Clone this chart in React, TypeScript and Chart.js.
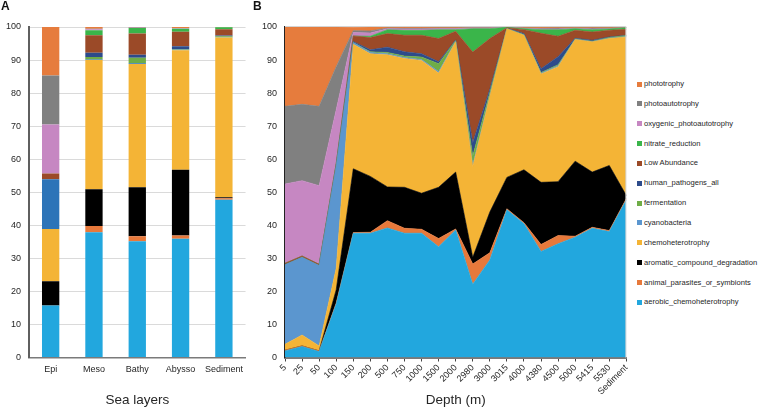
import React, { useEffect, useRef } from "react";
import { Chart, registerables } from "chart.js";

Chart.register(...registerables);

const FONT = "'Liberation Sans', Arial, Helvetica, sans-serif";

// ---------- Panel A: sea layers ----------
const layersA = ["Epi", "Meso", "Bathy", "Abysso", "Sediment"];
const aerobicA = [15.7, 37.9, 35.2, 35.9, 47.7];
const animalA = [0, 1.9, 1.5, 1.0, 0.5];
const aromaticA = [7.4, 11.1, 14.8, 19.9, 0.3];
const chemoA = [15.8, 39.1, 37.3, 36.2, 48.3];
const cyanoA = [15.0, 0.2, 0.2, 0.1, 0.1];
const fermentA = [0, 0.7, 1.7, 0.2, 0.3];
const humanA = [0, 1.3, 0.9, 0.9, 0.2];
const lowA = [1.8, 5.3, 6.4, 4.4, 1.9];
const nitrateA = [0, 1.5, 1.7, 0.9, 0.6];
const oxygenicA = [14.8, 0.3, 0.1, 0.1, 0];
const photoautoA = [14.8, 0.2, 0.1, 0.1, 0];
const phototrophyA = [14.7, 0.5, 0.1, 0.3, 0.1];

// ---------- Panel B: depth ----------
const depthsB = ["5", "25", "50", "100", "150", "200", "500", "750", "1000", "1500", "2000", "2980", "3000", "3015", "4000", "4380", "4500", "5000", "5415", "5530", "Sediment"];
const aerobicB = [2.0, 3.3, 1.8, 16.2, 37.6, 37.6, 39.2, 37.6, 37.6, 33.5, 38.6, 22.2, 29.5, 44.7, 40.5, 32.1, 34.4, 36.4, 39.1, 38.1, 47.7];
const animalB = [0.2, 0.2, 0.2, 0.3, 0.2, 0.3, 2.2, 1.5, 1.2, 2.5, 0.3, 6.1, 2.2, 0.3, 0.3, 2.1, 2.5, 0.3, 0.3, 0.3, 0.4];
const aromaticB = [0, 0, 0, 4.0, 19.3, 16.9, 10.2, 12.4, 10.9, 15.5, 17.2, 2.0, 12.3, 9.5, 16.0, 18.8, 16.3, 22.7, 16.7, 19.7, 0.9];
const chemoB = [1.8, 3.3, 1.5, 6.5, 37.7, 37.1, 40.0, 39.0, 40.2, 34.6, 39.4, 27.5, 35.0, 45.0, 40.7, 32.8, 34.8, 36.8, 39.4, 38.4, 48.0];
const cyanoB = [24.1, 23.5, 24.3, 31.0, 0.5, 0.4, 0.3, 0.3, 0.3, 0.4, 0.2, 0.5, 0.2, 0, 0.1, 0.2, 0.3, 0.1, 0.1, 0.1, 0.1];
const fermentB = [0, 0, 0, 0, 0, 0.2, 0.4, 0.4, 0.7, 2.4, 0.2, 2.7, 1.0, 0, 0.1, 0.2, 0.3, 0.1, 0.1, 0.2, 0.3];
const humanB = [0, 0, 0, 0, 0.3, 0.6, 1.6, 1.3, 1.0, 0.6, 0.2, 4.0, 1.0, 0.1, 0.3, 1.2, 2.4, 0.2, 0.3, 0.2, 0.1];
const lowB = [0.4, 0.4, 0.4, 0.7, 1.7, 3.7, 4.1, 5.0, 5.6, 7.0, 2.6, 27.4, 15.3, 0.2, 1.2, 10.7, 6.2, 2.4, 2.5, 2.0, 1.8];
const nitrateB = [0, 0, 0, 0, 0, 0.4, 1.2, 1.5, 1.5, 2.7, 0.5, 7.1, 3.0, 0.1, 0.3, 1.1, 2.0, 0.5, 0.7, 0.4, 0.5];
const oxygenicB = [24.0, 22.8, 23.8, 16.3, 1.0, 1.0, 0.3, 0.4, 0.4, 0.3, 0.3, 0.2, 0.2, 0, 0.1, 0.2, 0.2, 0.1, 0.2, 0.1, 0];
const photoautoB = [23.5, 23.1, 24.0, 13.0, 0.6, 0.6, 0.2, 0.2, 0.2, 0.2, 0.2, 0.1, 0.1, 0, 0.1, 0.2, 0.3, 0.1, 0.3, 0.2, 0];
const phototrophyB = [24.0, 23.4, 24.0, 12.0, 1.0, 1.2, 0.3, 0.4, 0.4, 0.3, 0.3, 0.2, 0.2, 0.1, 0.3, 0.4, 0.3, 0.3, 0.3, 0.3, 0.2];

// series names, bottom of the stack first
const seriesNames = [
  "aerobic_chemoheterotrophy",
  "animal_parasites_or_symbionts",
  "aromatic_compound_degradation",
  "chemoheterotrophy",
  "cyanobacteria",
  "fermentation",
  "human_pathogens_all",
  "Low Abundance",
  "nitrate_reduction",
  "oxygenic_photoautotrophy",
  "photoautotrophy",
  "phototrophy",
];
const dataA = [aerobicA, animalA, aromaticA, chemoA, cyanoA, fermentA, humanA, lowA, nitrateA, oxygenicA, photoautoA, phototrophyA];
const dataB = [aerobicB, animalB, aromaticB, chemoB, cyanoB, fermentB, humanB, lowB, nitrateB, oxygenicB, photoautoB, phototrophyB];

const colorsB = ["#22a7de", "#e7793b", "#000000", "#f4b436", "#5b96cf", "#6fad47", "#2d4b8b", "#9b4a28", "#3ab54a", "#c687c2", "#808080", "#e67c3d"];
const colorsA = ["#22a7de", "#e7793b", "#000000", "#f4b436", "#2d74b8", "#6fad47", "#2d4b8b", "#9b4a28", "#3ab54a", "#c687c2", "#808080", "#e67c3d"];

const TEXT = "#262626";

const frame = {
  id: "frameB",
  afterDatasetsDraw(chart: any) {
    const { ctx, chartArea } = chart;
    ctx.save();
    ctx.strokeStyle = "#d4d4d4";
    ctx.lineWidth = 1;
    ctx.beginPath();
    ctx.moveTo(chartArea.left, chartArea.top - 0.5);
    ctx.lineTo(chartArea.right - 0.5, chartArea.top - 0.5);
    ctx.lineTo(chartArea.right - 0.5, chartArea.bottom);
    ctx.stroke();
    ctx.restore();
  },
};

export default function App() {
  const refA = useRef<HTMLCanvasElement>(null);
  const refB = useRef<HTMLCanvasElement>(null);

  useEffect(() => {
    Chart.defaults.font.family = FONT;
    const chartA = new Chart(refA.current as HTMLCanvasElement, {
      type: "bar",
      data: {
        labels: layersA,
        datasets: seriesNames.map((name, i) => ({
          label: name,
          data: dataA[i],
          backgroundColor: colorsA[i],
          borderWidth: 0,
          barPercentage: 0.4,
          categoryPercentage: 1,
        })),
      },
      options: {
        responsive: false,
        animation: false,
        layout: { padding: { top: 27, left: 0, right: 1, bottom: 0 } },
        plugins: { legend: { display: false }, tooltip: { enabled: false } },
        scales: {
          x: {
            stacked: true,
            grid: { display: false, drawTicks: false },
            border: { display: true, color: "#7a7a7a", width: 1.5 },
            ticks: { font: { size: 9, family: FONT }, color: TEXT, padding: 7, maxRotation: 0, minRotation: 0, autoSkip: false },
            title: { display: true, text: "Sea layers", color: TEXT, font: { size: 13.5, family: FONT }, padding: { top: 0, bottom: 2 } },
            afterFit: (s: any) => { s.height = 52.5; },
          },
          y: {
            stacked: true,
            min: 0,
            max: 100,
            grid: { color: "#dadada", drawTicks: false },
            border: { display: true, color: "#5f5f5f", width: 2 },
            ticks: { stepSize: 10, font: { size: 9, family: FONT }, color: TEXT, padding: 8 },
            afterFit: (s: any) => { s.width = 29; },
          },
        },
      },
    });

    const chartB = new Chart(refB.current as HTMLCanvasElement, {
      type: "line",
      data: {
        labels: depthsB,
        datasets: seriesNames.map((name, i) => ({
          label: name,
          data: dataB[i],
          backgroundColor: colorsB[i],
          borderColor: colorsB[i],
          borderWidth: 0.6,
          pointRadius: 0,
          tension: 0,
          fill: i === 0 ? "origin" : "-1",
        })),
      },
      options: {
        responsive: false,
        animation: false,
        layout: { padding: { top: 27, left: 0, right: 8, bottom: 0 } },
        plugins: { legend: { display: false }, tooltip: { enabled: false } },
        scales: {
          x: {
            grid: { display: true, drawOnChartArea: false, drawTicks: true, tickLength: 4, tickColor: "#444" },
            border: { display: true, color: "#7a7a7a", width: 2 },
            ticks: { font: { size: 9, family: FONT }, color: TEXT, maxRotation: 45, minRotation: 45, autoSkip: false, padding: 1 },
            title: { display: true, text: "Depth (m)", color: TEXT, font: { size: 13.5, family: FONT }, padding: { top: 0, bottom: 2 } },
            afterFit: (s: any) => { s.height = 52.5; },
          },
          y: {
            stacked: true,
            min: 0,
            max: 100,
            grid: { display: false, drawTicks: false },
            border: { display: true, color: "#222", width: 1.5 },
            ticks: { stepSize: 10, font: { size: 9, family: FONT }, color: TEXT, padding: 8 },
            afterFit: (s: any) => { s.width = 35; },
          },
        },
      },
      plugins: [frame],
    });

    return () => {
      chartA.destroy();
      chartB.destroy();
    };
  }, []);

  const legendItems = seriesNames.map((n, i) => ({ name: n, color: colorsB[i] })).reverse();

  return (
    <div style={{ position: "absolute", left: 0, top: 0, width: 758, height: 410, background: "#fff", fontFamily: FONT, overflow: "hidden" }}>
      <canvas ref={refA} width={250} height={410} style={{ position: "absolute", left: 0, top: 0 }} />
      <canvas ref={refB} width={385} height={410} style={{ position: "absolute", left: 250, top: 0 }} />
      <div style={{ position: "absolute", left: 1, top: -1, fontSize: 12, fontWeight: "bold", color: "#111" }}>A</div>
      <div style={{ position: "absolute", left: 253, top: -1, fontSize: 12, fontWeight: "bold", color: "#111" }}>B</div>
      {legendItems.map((it, i) => (
        <div key={it.name} style={{ position: "absolute", left: 637, top: 84 + i * 19.85 - 5, height: 10, display: "flex", alignItems: "center", whiteSpace: "nowrap" }}>
          <span style={{ display: "inline-block", width: 5, height: 5, background: it.color, marginRight: 2 }} />
          <span style={{ fontSize: 7.6, color: TEXT, lineHeight: "10px" }}>{it.name}</span>
        </div>
      ))}
    </div>
  );
}
